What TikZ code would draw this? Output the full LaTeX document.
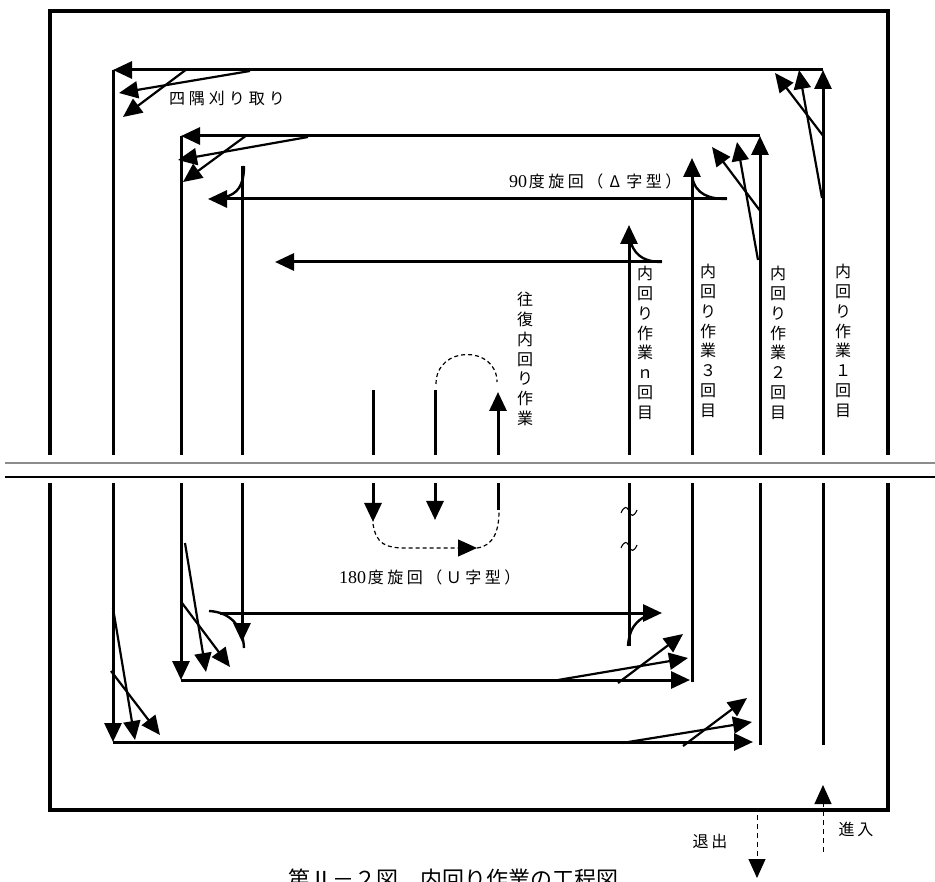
\documentclass[tikz,border=0pt]{standalone}
\usepackage{fontspec}
\newfontfamily\jp{Noto Sans CJK JP}
\newfontfamily\ser{Liberation Serif}
\usetikzlibrary{arrows.meta}
\newlength\chw
\setlength\chw{19.5pt}
\def\spx#1{\ifx#1\relax\else\makebox[\chw][c]{#1}\expandafter\spx\fi}
\newcommand\sptext[1]{\spx#1\relax}
\def\vtx#1{\ifx#1\relax\else\hbox to 17pt{\hss#1\hss}\expandafter\vtx\fi}
\newcommand\vtext[1]{\vbox{\baselineskip=19.8pt\lineskiplimit=-20pt\vtx#1\relax}}
\begin{document}
\begin{tikzpicture}[x=1pt,y=-1pt,
  arr/.style={-{Triangle[length=19pt,width=17pt]}},
  mainln/.style={line width=3pt},
  obl/.style={line width=2.2pt,arr},
  crv/.style={line width=2.4pt},
  dsh/.style={line width=1.2pt,dash pattern=on 4pt off 3pt},
  edsh/.style={line width=1pt,dash pattern=on 5pt off 4pt},
  bord/.style={line width=4.5pt},
  lbl/.style={font=\jp\fontsize{16pt}{19.8pt}\selectfont,inner sep=0pt},
  tild/.style={line width=1.1pt}]
\useasboundingbox (0,0) rectangle (935,882);

% outer border
\draw[bord] (50,455) -- (50,11) -- (888,11) -- (888,455);
\draw[bord] (50,483) -- (50,810) -- (888,810) -- (888,483);

% break lines
\draw[line width=2pt,black!45] (5,463) -- (935,463);
\draw[line width=1.5pt] (5,477) -- (935,477);

% loop 1
\draw[mainln,arr] (823,455) -- (823,70);
\draw[mainln] (823,745) -- (823,483);
\draw[mainln,arr] (823,70) -- (113,70);
\draw[mainln] (113,70) -- (113,455);
\draw[mainln,arr] (113,483) -- (113,742);
\draw[mainln,arr] (113,742) -- (753,742);

% loop 2
\draw[mainln,arr] (760,455) -- (760,136);
\draw[mainln] (760,745) -- (760,483);
\draw[mainln,arr] (760,136) -- (181,136);
\draw[mainln] (181,136) -- (181,455);
\draw[mainln,arr] (181,483) -- (181,680);
\draw[mainln,arr] (181,680) -- (690,680);

% loop 3
\draw[mainln,arr] (692,455) -- (692,158);
\draw[mainln] (692,682) -- (692,483);
\draw[mainln,arr] (727,199) -- (208,199);
\draw[crv] (692,176) .. controls (695,195) and (710,199) .. (727,199);
\draw[crv] (244,166) .. controls (244,186) and (237,194) .. (225,197);
\draw[mainln] (242,166) -- (242,455);
\draw[mainln,arr] (242,483) -- (242,642);
\draw[crv] (244,648) .. controls (243,626) and (230,612) .. (209,611);
\draw[mainln,arr] (220,613) -- (662,613);

% loop n
\draw[mainln,arr] (629,455) -- (629,225);
\draw[mainln,arr] (662,262) -- (275,262);
\draw[crv] (631,243) .. controls (636,258) and (648,262) .. (662,262);
\draw[mainln] (629,483) -- (629,646);
\draw[crv] (628,646) .. controls (629,630) and (635,621) .. (648,615);
\draw[tild] (621,513) .. controls (624,506) and (627,506) .. (629,511) .. controls (631,517) and (634,517) .. (637,510);
\draw[tild] (621,548) .. controls (624,541) and (627,541) .. (629,546) .. controls (631,552) and (634,552) .. (637,545);

% reciprocating work (middle)
\draw[mainln] (373,390) -- (373,455);
\draw[mainln] (435,390) -- (435,455);
\draw[mainln,arr] (498,455) -- (498,392);
\draw[dsh] (436,384) .. controls (436,345) and (497,345) .. (497,382);
\draw[mainln,arr] (373,483) -- (373,522);
\draw[mainln,arr] (435,483) -- (435,520);
\draw[mainln] (498,483) -- (498,510);
\draw[dsh,arr] (373,524) .. controls (376,544) and (386,548) .. (405,548) -- (477,548);
\draw[dsh] (477,548) .. controls (494,546) and (499,530) .. (499,511);

% corner cutting obliques
\draw[obl] (250,71) -- (119,93);
\draw[obl] (187,69) -- (123,117);
\draw[obl] (308,137) -- (178,160);
\draw[obl] (247,135) -- (183,182);
\draw[obl] (822,198) -- (799,70);
\draw[obl] (824,137) -- (775,73);
\draw[obl] (758,260) -- (737,142);
\draw[obl] (761,212) -- (712,147);
\draw[obl] (113,608) -- (135,740);
\draw[obl] (111,671) -- (160,735);
\draw[obl] (185,543) -- (206,672);
\draw[obl] (182,603) -- (230,667);
\draw[obl] (558,680) -- (688,658);
\draw[obl] (618,683) -- (683,634);
\draw[obl] (622,743) -- (752,722);
\draw[obl] (683,746) -- (747,698);

% entry / exit
\draw[edsh,arr] (823,852) -- (823,785);
\draw[edsh,arr] (757,815) -- (757,878);

% labels
\node[lbl] (corner) at (227,98) {\setlength\chw{20pt}\sptext{四隅刈り取り}};
\node[lbl,anchor=west] (turn90) at (509,181) {{\ser\fontsize{18pt}{18pt}\selectfont 90}\sptext{度旋回（Δ字型）}};
\node[lbl,anchor=west] (turn180) at (339,577) {{\ser\fontsize{18pt}{18pt}\selectfont 180}\sptext{度旋回（Ｕ字型）}};
\node[lbl,anchor=north] (vn) at (645,266) {\vtext{内回り作業ｎ回目}};
\node[lbl,anchor=north] (v3) at (708,264) {\vtext{内回り作業３回目}};
\node[lbl,anchor=north] (v2) at (778,266) {\vtext{内回り作業２回目}};
\node[lbl,anchor=north] (v1) at (843,264) {\vtext{内回り作業１回目}};
\node[lbl,anchor=north] (vo) at (525,292) {\vtext{往復内回り作業}};
\node[lbl] (enter) at (856,829) {\setlength\chw{19pt}\sptext{進入}};
\node[lbl] (exit) at (710,841) {\setlength\chw{19pt}\sptext{退出}};
\node[anchor=base west,inner sep=0pt,font=\jp\fontsize{22pt}{22pt}\selectfont] (caption) at (288,887) {第Ⅱ－２図　内回り作業の工程図};
\end{tikzpicture}
\end{document}
